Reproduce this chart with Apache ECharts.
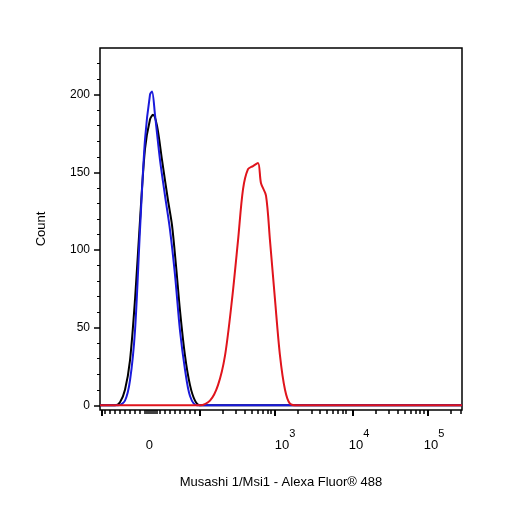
<!DOCTYPE html>
<html><head><meta charset="utf-8">
<script src="https://cdn.jsdelivr.net/npm/echarts@6/dist/echarts.min.js"></script>
<style>html,body{margin:0;padding:0;background:#fff}#c{width:506px;height:506px}</style>
</head><body><div id="c"></div>
<script>
// x in display (biexponential) units, 0..362 ; y = count
const blueX = [0,18,25,30,35,40,45,50,52,55,60,65,70,75,80,85,90,97,362];
const blueY = [0,0,3,16,48,113,171,200,202,187,158,135,113,84,48,23,6,0,0];
const blackX = [0,15,20,25,30,35,40,45,50,53,57,62,68,72,76,80,85,90,95,100,362];
const blackY = [0,0,2,10,29,68,119,165,184,187,180,158,132,116,90,61,32,13,3,0,0];
const redX = [0,100,110,118,125,132,138,143,148,153,158,161,166,170,175,180,185,190,198,362];
const redY = [0,0,3,13,32,68,106,139,152,154,156,143,135,106,68,32,10,1,0,0];
const xMajor = [2,100,175,253,328];
const xMinor = [5,10,15,20,25,30,35,40,45,47,49,51,53,55,57,60,65,70,75,80,85,90,95,123,136,145,152,158,163,168,171,198,212,220,227,233,238,243,246,276,289,298,305,311,316,320,324,351,361];
const xLabelPos = [51,185,259,334];
const xLabels = ['{b|0}{s| }','{b|10}{s|3}','{b|10}{s|4}','{b|10}{s|5}'];
const yMajor = [0,50,100,150,200];
const yMinor = [10,20,30,40,60,70,80,90,110,120,130,140,160,170,180,190,210,220];

const chart = echarts.init(document.getElementById('c'));
const mk = (x,y)=>x.map((v,i)=>[v,y[i]]);
const xBase = {type:'value',min:0,max:362,splitLine:{show:false},
  axisLine:{show:false,onZero:false}};
const yBase = {type:'value',min:-3,max:230,splitLine:{show:false},axisLine:{show:false,onZero:false}};
chart.setOption({
  animation:false,
  grid:{left:100,right:44,top:48,bottom:96,show:true,borderColor:'#000',borderWidth:1.5},
  xAxis:[
    Object.assign({},xBase,{axisTick:{show:true,customValues:xMajor,length:6,lineStyle:{color:'#000',width:2}},
      axisLabel:{customValues:xLabelPos,margin:18,color:'#000',fontSize:13,fontFamily:'Liberation Sans',
        formatter:v=>xLabels[xLabelPos.indexOf(v)]||'',
        rich:{b:{fontSize:13,color:'#000',verticalAlign:'bottom',fontFamily:'Liberation Sans'},
              s:{fontSize:11,verticalAlign:'top',color:'#000',lineHeight:24,fontFamily:'Liberation Sans'}}},
      name:'Musashi 1/Msi1 - Alexa Fluor\u00AE 488',nameLocation:'middle',nameGap:66,
      nameTextStyle:{color:'#000',fontSize:13,fontFamily:'Liberation Sans'}}),
    Object.assign({},xBase,{position:'bottom',axisTick:{show:true,customValues:xMinor,length:4,lineStyle:{color:'#000',width:1.5}},axisLabel:{show:false}})
  ],
  yAxis:[
    Object.assign({},yBase,{axisTick:{show:true,customValues:yMajor,length:6,lineStyle:{color:'#000',width:1.5}},
      axisLabel:{customValues:yMajor,margin:10,color:'#000',fontSize:12,fontFamily:'Liberation Sans'},
      name:'Count',nameLocation:'middle',nameGap:52,nameTextStyle:{color:'#000',fontSize:13,fontFamily:'Liberation Sans'}}),
    Object.assign({},yBase,{position:'left',axisTick:{show:true,customValues:yMinor,length:3,lineStyle:{color:'#000',width:1}},axisLabel:{show:false}})
  ],
  series:[
    {type:'line',data:mk(blackX,blackY),smooth:0.3,symbol:'none',lineStyle:{color:'#000',width:2}},
    {type:'line',data:mk(blueX,blueY),smooth:0.3,symbol:'none',lineStyle:{color:'#1a1adb',width:2}},
    {type:'line',data:mk(redX,redY),smooth:0.3,symbol:'none',lineStyle:{color:'#e0141c',width:2}}
  ]
});
</script></body></html>
